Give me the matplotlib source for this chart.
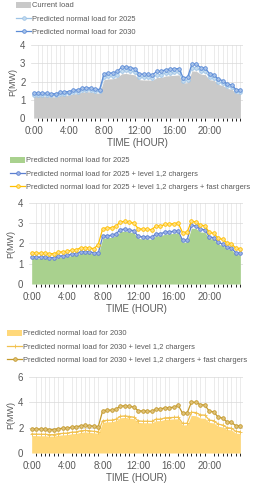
import numpy as np
import matplotlib.pyplot as plt

plt.rcParams['font.family'] = ['Liberation Sans', 'DejaVu Sans']

# half-hourly time axis 0:00 .. 23:30
slots = np.arange(48)
tick_pos = [0, 8, 16, 24, 32, 40]
tick_labels = ['0:00', '4:00', '8:00', '12:00', '16:00', '20:00']

current_load = [1.20, 1.19, 1.18, 1.18, 1.16, 1.16, 1.22, 1.24, 1.26, 1.32, 1.34, 1.42, 1.44, 1.43, 1.38, 1.36,
                2.10, 2.14, 2.15, 2.22, 2.42, 2.44, 2.40, 2.36, 2.10, 2.08, 2.08, 2.06, 2.22, 2.22, 2.30, 2.32,
                2.34, 2.36, 1.92, 1.94, 2.58, 2.56, 2.40, 2.38, 2.10, 2.06, 1.84, 1.78, 1.62, 1.58, 1.36, 1.34]

load_2025 = [1.28, 1.27, 1.26, 1.26, 1.24, 1.24, 1.31, 1.33, 1.35, 1.41, 1.43, 1.52, 1.54, 1.53, 1.48, 1.46,
             2.25, 2.29, 2.30, 2.38, 2.59, 2.61, 2.57, 2.53, 2.25, 2.23, 2.23, 2.20, 2.38, 2.38, 2.46, 2.48,
             2.50, 2.53, 2.05, 2.08, 2.76, 2.74, 2.57, 2.55, 2.25, 2.20, 1.97, 1.90, 1.73, 1.69, 1.46, 1.43]

load_2030 = [1.38, 1.37, 1.36, 1.36, 1.33, 1.33, 1.40, 1.43, 1.45, 1.52, 1.54, 1.63, 1.66, 1.64, 1.59, 1.56,
             2.42, 2.46, 2.47, 2.55, 2.78, 2.81, 2.76, 2.71, 2.42, 2.39, 2.39, 2.37, 2.55, 2.55, 2.65, 2.67,
             2.69, 2.71, 2.21, 2.23, 2.97, 2.94, 2.76, 2.74, 2.42, 2.37, 2.12, 2.05, 1.86, 1.82, 1.56, 1.54]

l12_2025 = [1.34, 1.33, 1.32, 1.32, 1.30, 1.30, 1.37, 1.39, 1.41, 1.47, 1.49, 1.58, 1.60, 1.59, 1.54, 1.52,
            2.35, 2.39, 2.40, 2.48, 2.69, 2.71, 2.67, 2.63, 2.35, 2.33, 2.33, 2.30, 2.48, 2.48, 2.56, 2.58,
            2.60, 2.63, 2.15, 2.18, 2.89, 2.87, 2.70, 2.68, 2.33, 2.28, 2.05, 1.98, 1.81, 1.77, 1.54, 1.51]

fast_2025 = [1.54, 1.53, 1.52, 1.52, 1.50, 1.50, 1.57, 1.59, 1.61, 1.67, 1.69, 1.78, 1.80, 1.79, 1.74, 1.95,
             2.73, 2.77, 2.78, 2.86, 3.07, 3.09, 3.05, 3.01, 2.73, 2.71, 2.71, 2.68, 2.86, 2.86, 2.94, 2.96,
             2.98, 3.01, 2.53, 2.56, 3.09, 3.07, 2.90, 2.88, 2.55, 2.50, 2.27, 2.20, 2.03, 1.99, 1.76, 1.73]

l12_2030 = [1.50, 1.49, 1.48, 1.48, 1.45, 1.45, 1.52, 1.55, 1.57, 1.64, 1.66, 1.75, 1.78, 1.76, 1.71, 1.68,
            2.54, 2.58, 2.59, 2.67, 2.90, 2.93, 2.88, 2.83, 2.54, 2.51, 2.51, 2.49, 2.67, 2.67, 2.77, 2.79,
            2.81, 2.83, 2.33, 2.35, 3.22, 3.19, 3.01, 2.99, 2.60, 2.55, 2.28, 2.21, 2.00, 1.96, 1.70, 1.68]

fast_2030 = [1.90, 1.89, 1.88, 1.88, 1.85, 1.85, 1.92, 1.95, 1.97, 2.04, 2.06, 2.15, 2.18, 2.16, 2.11, 2.08,
             3.34, 3.38, 3.39, 3.47, 3.70, 3.73, 3.68, 3.63, 3.34, 3.31, 3.31, 3.29, 3.47, 3.47, 3.57, 3.59,
             3.61, 3.78, 3.13, 3.15, 4.02, 3.99, 3.81, 3.79, 3.30, 3.25, 2.83, 2.76, 2.45, 2.41, 2.15, 2.13]

txt = '#595959'
fs = 5.4

W, H = 254, 488
fig = plt.figure(figsize=(W / 100, H / 100), dpi=100)


def style_axes(ax, ymax, ystep):
    ax.set_xlim(-0.6, 47.6)
    ax.set_ylim(0, ymax)
    ax.set_yticks(np.arange(0, ymax + 0.01, ystep))
    ax.set_xticks(tick_pos)
    ax.set_xticklabels(tick_labels)
    ax.set_xticks(slots, minor=True)
    ax.grid(True, axis='x', which='minor', color='#e3e3e3', lw=0.5)
    ax.grid(True, axis='y', which='major', color='#d9d9d9', lw=0.5)
    ax.set_axisbelow(True)
    for s in ax.spines.values():
        s.set_visible(False)
    ax.tick_params(length=0, labelsize=7, colors=txt, pad=4)
    ax.tick_params(axis='x', pad=6)
    ax.set_xlabel('TIME (HOUR)', fontsize=7, color=txt, labelpad=1.5)
    ax.set_ylabel('P(MW)', fontsize=6.5, color=txt, labelpad=2)


def put_legend(ax, left_px, top_px):
    ax.legend(loc='upper left', bbox_to_anchor=(left_px / W, 1 - top_px / H), bbox_transform=fig.transFigure,
              frameon=False, fontsize=fs, labelcolor=txt, handlelength=2.0, handleheight=0.8,
              handletextpad=0.15, labelspacing=0.75, borderaxespad=0, borderpad=0)


mk = dict(marker='o', markersize=2.6, markeredgewidth=0.6)

# panel 1
ax1 = fig.add_axes([31 / W, 1 - 118 / H, 212 / W, 73 / H])
ax1.fill_between(slots, current_load, color='#c9c9c9', lw=0, label='Current load')
ax1.plot(slots, load_2025, color='#9dc3e6', mfc='#c5dcf0', lw=0.9, label='Predicted normal load for 2025', **mk)
ax1.plot(slots, load_2030, color='#5b8bd6', mfc='#a9c4ea', lw=0.9, label='Predicted normal load for 2030', **mk)
style_axes(ax1, 4, 1)
put_legend(ax1, 16, 2)

# panel 2
ax2 = fig.add_axes([29 / W, 1 - 284 / H, 214 / W, 81 / H])
ax2.fill_between(slots, load_2025, color='#a9d18e', lw=0, label='Predicted normal load for 2025')
ax2.plot(slots, l12_2025, color='#5b7fd0', mfc='#9fb5e6', lw=0.9,
         label='Predicted normal load for 2025 + level 1,2 chargers', **mk)
ax2.plot(slots, fast_2025, color='#ffc000', mfc='#ffe08a', lw=0.9,
         label='Predicted normal load for 2025 + level 1,2 chargers + fast chargers', **mk)
style_axes(ax2, 4, 1)
put_legend(ax2, 10, 157)

# panel 3
ax3 = fig.add_axes([29 / W, 1 - 453 / H, 214 / W, 76 / H])
ax3.fill_between(slots, load_2030, color='#ffd87a', lw=0, label='Predicted normal load for 2030')
ax3.plot(slots, l12_2030, color='#f2c14e', lw=0.9, marker='+', markersize=2.5, markeredgewidth=0.6,
         label='Predicted normal load for 2030 + level 1,2 chargers')
ax3.plot(slots, fast_2030, color='#c49a2c', mfc='#e0c27a', lw=0.9,
         label='Predicted normal load for 2030 + level 1,2 chargers + fast chargers', **mk)
style_axes(ax3, 6, 2)
put_legend(ax3, 7, 330)

fig.savefig('out.png', dpi=100)
